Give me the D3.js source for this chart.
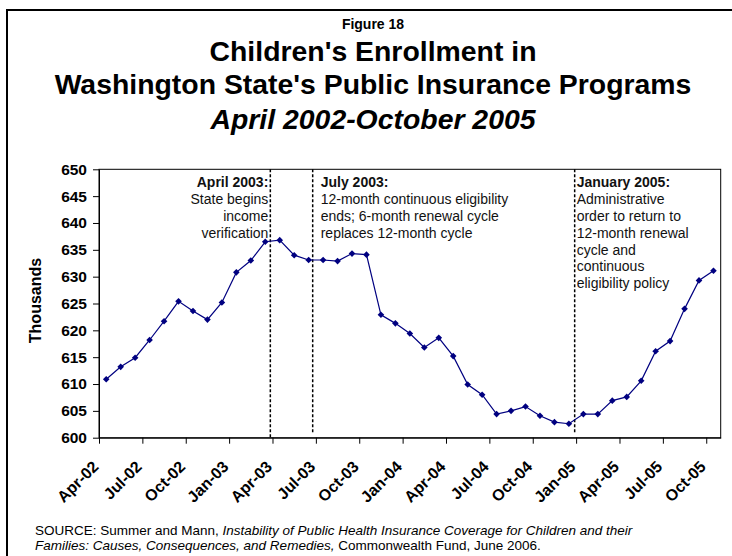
<!DOCTYPE html>
<html>
<head>
<meta charset="utf-8">
<script src="https://cdn.jsdelivr.net/npm/d3@7"></script>
<style>
  body { margin: 0; background: #fff; }
  text { font-family: Arial, "Liberation Sans", sans-serif; }
</style>
</head>
<body>
<script>
// monthly categories, Apr-02 .. Oct-05
var months = ["Apr-02","May-02","Jun-02","Jul-02","Aug-02","Sep-02","Oct-02","Nov-02","Dec-02",
  "Jan-03","Feb-03","Mar-03","Apr-03","May-03","Jun-03","Jul-03","Aug-03","Sep-03","Oct-03",
  "Nov-03","Dec-03","Jan-04","Feb-04","Mar-04","Apr-04","May-04","Jun-04","Jul-04","Aug-04",
  "Sep-04","Oct-04","Nov-04","Dec-04","Jan-05","Feb-05","Mar-05","Apr-05","May-05","Jun-05",
  "Jul-05","Aug-05","Sep-05","Oct-05"];

// enrollment, thousands
var enrollment = [610.9, 613.2, 614.9, 618.2, 621.7, 625.4, 623.6, 622.0, 625.2, 630.8,
  633.0, 636.5, 636.8, 634.0, 633.1, 633.1, 632.9, 634.3, 634.1, 622.9,
  621.3, 619.4, 616.8, 618.6, 615.2, 609.9, 608.0, 604.4, 605.0, 605.8,
  604.1, 602.9, 602.6, 604.4, 604.4, 606.9, 607.6, 610.6, 616.1, 618.0,
  624.0, 629.3, 631.1];

var yTicks = [600, 605, 610, 615, 620, 625, 630, 635, 640, 645, 650];
var xTickIdx = [0, 3, 6, 9, 12, 15, 18, 21, 24, 27, 30, 33, 36, 39, 42];

var titleLines = ["Children's Enrollment in", "Washington State's Public Insurance Programs"];
var subTitle = "April 2002-October 2005";

// policy events: position in month units, heading, text lines
var events = [
  {at: 11.85, head: "April 2003:", lines: ["State begins", "income", "verification"], side: "left", end: 600},
  {at: 14.78, head: "July 2003:", lines: ["12-month continuous eligibility", "ends; 6-month renewal cycle", "replaces 12-month cycle"], side: "right", end: 601},
  {at: 32.9, head: "January 2005:", lines: ["Administrative", "order to return to", "12-month renewal", "cycle and", "continuous", "eligibility policy"], side: "right", end: 601}
];

var width = 732, height = 556;
var plotL = 99, plotR = 720.7, plotT = 169.3, plotB = 437.7;

var svg = d3.select("body").append("svg")
  .attr("width", width)
  .attr("height", height);

// outer frame
svg.append("rect")
  .attr("x", 7).attr("y", 10)
  .attr("width", 740).attr("height", 560)
  .attr("fill", "none")
  .attr("stroke", "#000")
  .attr("stroke-width", 2);

// titles
svg.append("text")
  .attr("x", 373).attr("y", 29)
  .attr("text-anchor", "middle")
  .style("font-size", "14px").style("font-weight", "bold")
  .text("Figure 18");

svg.selectAll(".title").data(titleLines).enter().append("text")
  .attr("class", "title")
  .attr("x", 373)
  .attr("y", function(d, i) { return 61 + i * 33; })
  .attr("text-anchor", "middle")
  .style("font-size", "28.4px").style("font-weight", "bold")
  .text(function(d) { return d; });

svg.append("text")
  .attr("x", 373).attr("y", 129)
  .attr("text-anchor", "middle")
  .style("font-size", "28.4px").style("font-weight", "bold").style("font-style", "italic")
  .text(subTitle);

var x = d3.scaleLinear().domain([0, months.length]).range([plotL, plotR]);
var y = d3.scaleLinear().domain([600, 650]).range([plotB, plotT]);

// plot frame
svg.append("rect")
  .attr("x", plotL).attr("y", plotT)
  .attr("width", plotR - plotL).attr("height", plotB - plotT)
  .attr("fill", "none")
  .attr("stroke", "#000")
  .attr("stroke-width", 1);

// y axis
var yAxis = svg.append("g")
  .attr("transform", "translate(" + plotL + ",0)")
  .call(d3.axisLeft(y).tickValues(yTicks).tickSize(6).tickSizeOuter(0).tickPadding(6));
yAxis.selectAll("text")
  .style("font-size", "15.5px").style("font-weight", "bold").attr("fill", "#000");

svg.append("text")
  .attr("transform", "translate(41," + ((plotT + plotB) / 2 - 3) + ") rotate(-90)")
  .attr("text-anchor", "middle")
  .style("font-size", "16px").style("font-weight", "bold")
  .text("Thousands");

// x axis
var xAxis = svg.append("g")
  .attr("transform", "translate(0," + plotB + ")")
  .call(d3.axisBottom(x).tickValues(xTickIdx).tickSize(6).tickSizeOuter(0)
    .tickFormat(function(i) { return months[i]; }));
xAxis.selectAll("text")
  .attr("x", 0).attr("y", 0).attr("dy", 0)
  .attr("text-anchor", "end")
  .attr("transform", "translate(0,30) rotate(-45)")
  .style("font-size", "16px").style("font-weight", "bold").attr("fill", "#000");
xAxis.selectAll("line, path").attr("stroke", "#000");
yAxis.selectAll("line, path").attr("stroke", "#000");

// event lines
svg.selectAll(".evline").data(events).enter().append("line")
  .attr("class", "evline")
  .attr("x1", function(d) { return x(d.at); })
  .attr("x2", function(d) { return x(d.at); })
  .attr("y1", plotT)
  .attr("y2", function(d) { return y(d.end); })
  .attr("stroke", "#000")
  .attr("stroke-width", 1.5)
  .attr("stroke-dasharray", "3,2");

// event notes
events.forEach(function(ev) {
  var tx = ev.side == "left" ? x(ev.at) - 2 : x(ev.at) + (ev.at > 30 ? 2 : 8);
  var anchor = ev.side == "left" ? "end" : "start";
  var t = svg.append("text")
    .attr("text-anchor", anchor)
    .style("font-size", "14px")
    .attr("fill", "#111");
  t.append("tspan")
    .attr("x", tx).attr("y", 187.3)
    .style("font-weight", "bold")
    .text(ev.head);
  ev.lines.forEach(function(l, i) {
    t.append("tspan")
      .attr("x", tx).attr("y", 187.3 + (i + 1) * 16.8)
      .text(l);
  });
});

// series
var line = d3.line()
  .x(function(d, i) { return x(i + 0.5); })
  .y(function(d) { return y(d); });

svg.append("path")
  .datum(enrollment)
  .attr("d", line)
  .attr("fill", "none")
  .attr("stroke", "#000080")
  .attr("stroke-width", 1.2);

svg.selectAll(".pt").data(enrollment).enter().append("path")
  .attr("class", "pt")
  .attr("d", "M0,-3.3L3.3,0L0,3.3L-3.3,0Z")
  .attr("transform", function(d, i) { return "translate(" + x(i + 0.5) + "," + y(d) + ")"; })
  .attr("fill", "#000080");

// source note
var src = svg.append("text")
  .attr("x", 35).attr("y", 535)
  .style("font-size", "13.5px");
src.append("tspan").text("SOURCE: Summer and Mann, ");
src.append("tspan").style("font-style", "italic")
  .text("Instability of Public Health Insurance Coverage for Children and their");
var src2 = svg.append("text")
  .attr("x", 35).attr("y", 550)
  .style("font-size", "13.5px");
src2.append("tspan").style("font-style", "italic")
  .text("Families: Causes, Consequences, and Remedies,");
src2.append("tspan").text(" Commonwealth Fund, June 2006.");
</script>
</body>
</html>
